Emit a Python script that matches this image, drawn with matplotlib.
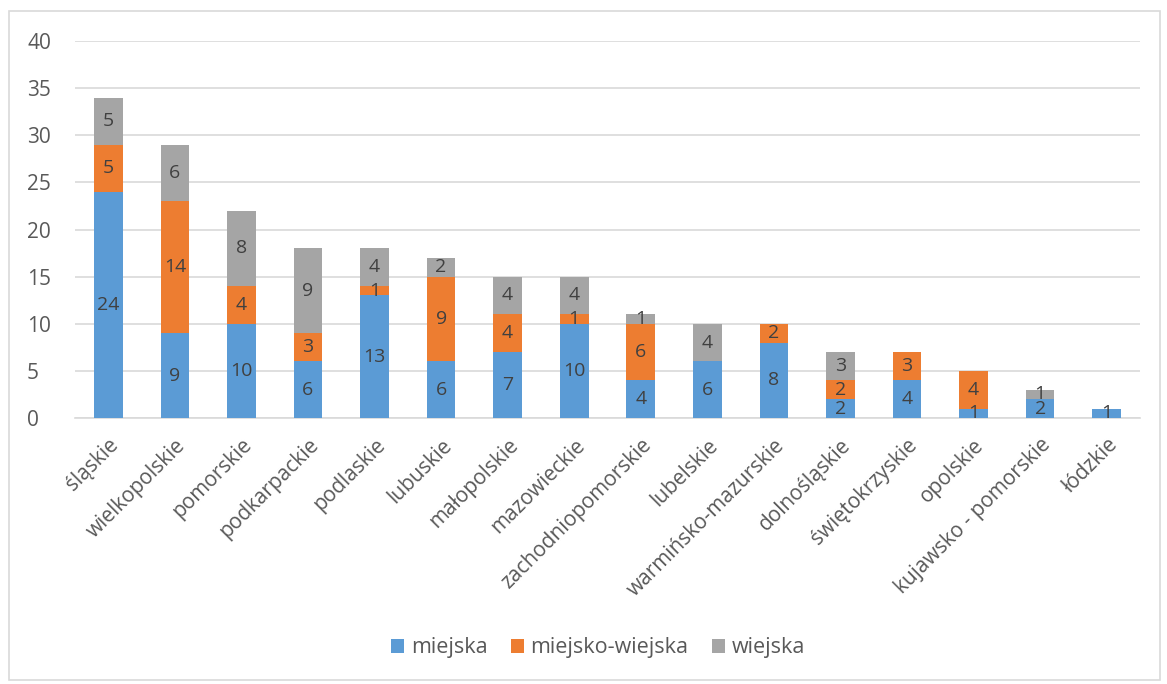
import matplotlib
matplotlib.use("Agg")
import matplotlib.pyplot as plt
from matplotlib.patches import Rectangle
import numpy as np

categories = ["śląskie", "wielkopolskie", "pomorskie", "podkarpackie", "podlaskie",
              "lubuskie", "małopolskie", "mazowieckie", "zachodniopomorskie", "lubelskie",
              "warmińsko-mazurskie", "dolnośląskie", "świętokrzyskie", "opolskie",
              "kujawsko - pomorskie", "łódzkie"]
miejska = [24, 9, 10, 6, 13, 6, 7, 10, 4, 6, 8, 2, 4, 1, 2, 1]
miejsko_wiejska = [5, 14, 4, 3, 1, 9, 4, 1, 6, 0, 2, 2, 3, 4, 0, 0]
wiejska = [5, 6, 8, 9, 4, 2, 4, 4, 1, 4, 0, 3, 0, 0, 1, 0]
series_names = ["miejska", "miejsko-wiejska", "wiejska"]
colors = ["#5B9BD5", "#ED7D31", "#A5A5A5"]

plt.rcParams['font.family'] = ['Open Sans', 'DejaVu Sans']

fig = plt.figure(figsize=(11.67, 6.84), dpi=100)
ax = fig.add_axes([75/1167, 1-418/684, (1140-75)/1167, (418-41)/684])

fig.patches.append(Rectangle((9/1167, 4/684), (1160-9)/1167, (673-4)/684,
                             transform=fig.transFigure, fill=False,
                             edgecolor="#D9D9D9", linewidth=1.2))

x = np.arange(len(categories))
bottom = np.zeros(len(categories))
for name, vals, c in zip(series_names, [miejska, miejsko_wiejska, wiejska], colors):
    vals = np.array(vals, dtype=float)
    ax.bar(x, vals, width=0.43, bottom=bottom, color=c, label=name, zorder=3)
    for xi, v, b in zip(x, vals, bottom):
        if v > 0:
            ax.text(xi, b + v / 2, f"{int(v)}", ha="center", va="center",
                    fontsize=14, color="#404040", zorder=4)
    bottom += vals

ax.set_xlim(-0.5, len(categories) - 0.5)
ax.set_ylim(0, 40)
ax.set_yticks(range(0, 41, 5))
ax.yaxis.grid(True, color="#D9D9D9", linewidth=1.2, zorder=0)
ax.set_axisbelow(True)
for s in ["top", "right", "left"]:
    ax.spines[s].set_visible(False)
ax.spines["bottom"].set_color("#D9D9D9")
ax.spines["bottom"].set_linewidth(1.2)
ax.tick_params(axis="y", length=0, labelsize=15, labelcolor="#595959", pad=34.5)
ax.tick_params(axis="x", length=0, labelsize=15, labelcolor="#595959", pad=12)
ax.set_xticks(x)
ax.set_xticklabels(categories, rotation=45, ha="right", rotation_mode="anchor")
for lbl in ax.get_yticklabels():
    lbl.set_horizontalalignment("left")

fig.legend(loc="center", bbox_to_anchor=(598/1167, 1-648/684), ncol=3, frameon=False,
           fontsize=15.5, labelcolor="#595959", handlelength=0.6, handleheight=0.6,
           columnspacing=1.1, handletextpad=0.3)

fig.savefig("out.png", dpi=100)
